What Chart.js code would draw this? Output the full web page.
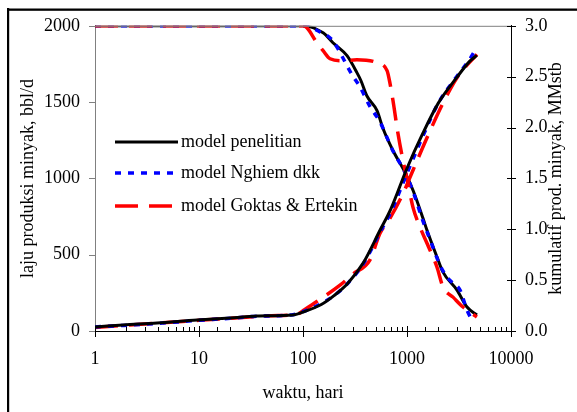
<!DOCTYPE html>
<html>
<head>
<meta charset="utf-8">
<script src="https://cdn.jsdelivr.net/npm/chart.js@4"></script>
<style>
  html, body { margin: 0; padding: 0; background: #fff; }
  canvas { display: block; }
</style>
</head>
<body>
<canvas id="chart" width="577" height="412"></canvas>
<script>
// Data (time in days, log axis)
const tRateBlack = [1, 100, 156, 194, 265, 330, 361, 412, 515, 588, 733, 957, 1142, 1425, 1557, 1945, 2218, 3025, 3775, 4700];
const rateBlack  = [2000, 2000, 1954, 1889, 1804, 1693, 1640, 1540, 1444, 1327, 1183, 1039, 922, 739, 660, 484, 386, 268, 157, 105];

const tRateBlue = [1, 100, 146, 190, 296, 353, 441, 550, 733, 957, 1142, 1425, 1750, 2077, 2425, 2770, 3234, 3775, 4313];
const rateBlue  = [2000, 2000, 1960, 1908, 1680, 1600, 1470, 1370, 1180, 1040, 915, 720, 560, 431, 353, 314, 268, 137, 59];

const tRateRed = [1, 100, 109, 136, 156, 182, 242, 330, 515, 643, 687, 733, 819, 915, 1023, 1142, 1334, 1557, 1943, 2218, 2770, 3454, 4700];
const rateRed  = [2000, 2000, 1987, 1889, 1837, 1784, 1771, 1778, 1758, 1706, 1621, 1510, 1294, 1118, 967, 810, 680, 575, 418, 288, 222, 157, 92];

const tCumBlack = [1, 1.86, 3.95, 9.6, 19.9, 36, 80, 100, 150, 200, 270, 380, 550, 700, 1000, 1400, 2000, 3000, 4000, 4700];
const cumBlack  = [0.039, 0.059, 0.078, 0.108, 0.127, 0.147, 0.157, 0.186, 0.26, 0.35, 0.47, 0.67, 0.99, 1.2, 1.6, 1.93, 2.24, 2.49, 2.65, 2.71];

const tCumBlue = [1, 1.9, 4, 6.5, 10, 20, 36, 80, 100, 150, 200, 270, 380, 550, 700, 1000, 1400, 2000, 3000, 4000, 4400];
const cumBlue  = [0.04, 0.055, 0.075, 0.09, 0.105, 0.125, 0.145, 0.16, 0.19, 0.27, 0.35, 0.47, 0.66, 0.97, 1.17, 1.55, 1.9, 2.24, 2.5, 2.67, 2.74];

const tCumRed = [1, 10, 50, 90, 100, 136, 227, 303, 441, 550, 687, 915, 1142, 1557, 2218, 3025, 4700];
const cumRed  = [0.035, 0.105, 0.15, 0.17, 0.2, 0.29, 0.45, 0.56, 0.70, 0.96, 1.11, 1.35, 1.58, 1.90, 2.24, 2.49, 2.72];

const seriesNames = ['model penelitian', 'model Nghiem dkk', 'model Goktas & Ertekin'];
const xTitle = 'waktu, hari';
const yTitle = 'laju produksi minyak, bbl/d';
const y2Title = 'kumulatif prod. minyak, MMstb';

const FONT = "'Liberation Serif', 'Times New Roman', serif";
const STYLE_BLACK = { borderColor: '#000000', borderWidth: 3, borderDash: [] };
const STYLE_BLUE = { borderColor: '#0000ff', borderWidth: 3.5, borderDash: [6, 7] };
const STYLE_RED = { borderColor: '#ff0000', borderWidth: 3.5, borderDash: [23, 11] };

const pts = (xs, ys) => xs.map((x, i) => ({ x: x, y: ys[i] }));
const isDecade = (v) => {
  const lg = Math.log10(v);
  return Math.abs(lg - Math.round(lg)) < 1e-9;
};

Chart.defaults.font.family = FONT;
Chart.defaults.font.size = 18;
Chart.defaults.color = '#000';

// Decorations: outer frame, tick marks, right title, in-plot legend
const decor = {
  id: 'decor',
  beforeDraw(chart) {
    const c = chart.ctx;
    c.save();
    c.fillStyle = '#fff';
    c.fillRect(0, 0, chart.width, chart.height);
    c.fillStyle = '#000';
    c.fillRect(7, 8, 2.2, chart.height);
    c.fillRect(7, 8.5, chart.width, 2.3);
    c.restore();
  },
  afterDraw(chart) {
    const c = chart.ctx;
    const a = chart.chartArea;
    const sx = chart.scales.x, sy = chart.scales.y, sy2 = chart.scales.y2;
    c.save();
    // top border of plot
    c.strokeStyle = '#808080';
    c.lineWidth = 1;
    c.beginPath();
    c.moveTo(a.left, a.top + 0.5);
    c.lineTo(a.right, a.top + 0.5);
    c.stroke();
    // left ticks
    c.beginPath();
    sy.ticks.forEach(t => {
      const p = Math.round(sy.getPixelForValue(t.value)) + 0.5;
      c.moveTo(a.left - 6, p);
      c.lineTo(a.left, p);
    });
    c.stroke();
    // right ticks
    c.strokeStyle = '#000';
    c.beginPath();
    sy2.ticks.forEach(t => {
      const p = Math.round(sy2.getPixelForValue(t.value)) + 0.5;
      c.moveTo(a.right - 4, p);
      c.lineTo(a.right + 5, p);
    });
    c.stroke();
    // x ticks: majors cross the axis, minors point inward
    c.beginPath();
    sx.ticks.forEach(t => {
      const p = Math.round(sx.getPixelForValue(t.value)) + 0.5;
      if (isDecade(t.value)) {
        c.moveTo(p, a.bottom - 5);
        c.lineTo(p, a.bottom + 6);
      } else {
        c.moveTo(p, a.bottom - 4);
        c.lineTo(p, a.bottom);
      }
    });
    c.stroke();
    // right axis title, reading bottom to top
    c.fillStyle = '#000';
    c.font = '18px ' + FONT;
    c.textAlign = 'center';
    c.textBaseline = 'middle';
    c.translate(556, (a.top + a.bottom) / 2);
    c.rotate(-Math.PI / 2);
    c.fillText(y2Title, 0, 0);
    c.restore();

    // legend inside plot
    c.save();
    const rowsY = [142, 173, 206];
    const styles = [STYLE_BLACK, STYLE_BLUE, STYLE_RED];
    seriesNames.forEach((name, i) => {
      const s = styles[i];
      c.strokeStyle = s.borderColor;
      c.lineWidth = s.borderWidth;
      c.setLineDash(s.borderDash);
      c.beginPath();
      c.moveTo(115, rowsY[i]);
      c.lineTo(i === 2 ? 174 : 178, rowsY[i]);
      c.stroke();
      c.setLineDash([]);
      c.fillStyle = '#000';
      c.font = '18px ' + FONT;
      c.textAlign = 'left';
      c.textBaseline = 'middle';
      c.fillText(name, 181, rowsY[i]);
    });
    c.restore();
  }
};

const ds = (name, data, axis, style) => Object.assign({
  label: name, data: data, yAxisID: axis,
  pointRadius: 0, cubicInterpolationMode: 'monotone', fill: false
}, style);

new Chart(document.getElementById('chart'), {
  type: 'line',
  data: {
    datasets: [
      ds(seriesNames[0], pts(tCumBlack, cumBlack), 'y2', STYLE_BLACK),
      ds(seriesNames[1], pts(tCumBlue, cumBlue), 'y2', STYLE_BLUE),
      ds(seriesNames[2], pts(tCumRed, cumRed), 'y2', STYLE_RED),
      ds(seriesNames[2], pts(tRateRed, rateRed), 'y', STYLE_RED),
      ds(seriesNames[1], pts(tRateBlue, rateBlue), 'y', STYLE_BLUE),
      ds(seriesNames[0], pts(tRateBlack, rateBlack), 'y', STYLE_BLACK)
    ]
  },
  options: {
    responsive: false,
    animation: false,
    layout: { padding: { top: 25, left: 0, right: 0, bottom: 0 } },
    plugins: { legend: { display: false }, tooltip: { enabled: false } },
    scales: {
      x: {
        type: 'logarithmic', position: 'bottom', min: 1, max: 10000,
        grid: { drawOnChartArea: false, drawTicks: false },
        border: { color: '#000', width: 1 },
        ticks: {
          autoSkip: false, maxRotation: 0, padding: 17,
          callback: (v) => isDecade(v) ? String(v) : ''
        },
        title: { display: true, text: xTitle, padding: { top: 0, bottom: 8 } },
        afterFit: (s) => { s.height = 81; }
      },
      y: {
        position: 'left', min: 0, max: 2000,
        grid: { drawOnChartArea: false, drawTicks: false },
        border: { color: '#808080', width: 1 },
        ticks: { stepSize: 500, padding: 15, callback: (v) => String(v) },
        title: { display: true, text: yTitle, padding: { top: 17, bottom: 0 } },
        afterFit: (s) => { s.width = 95; }
      },
      y2: {
        position: 'right', min: 0, max: 3,
        grid: { drawOnChartArea: false, drawTicks: false },
        border: { color: '#000', width: 1 },
        ticks: { stepSize: 0.5, padding: 14, callback: (v) => Number(v).toFixed(1) },
        afterFit: (s) => { s.width = 66; }
      }
    }
  },
  plugins: [decor]
});
</script>
</body>
</html>
